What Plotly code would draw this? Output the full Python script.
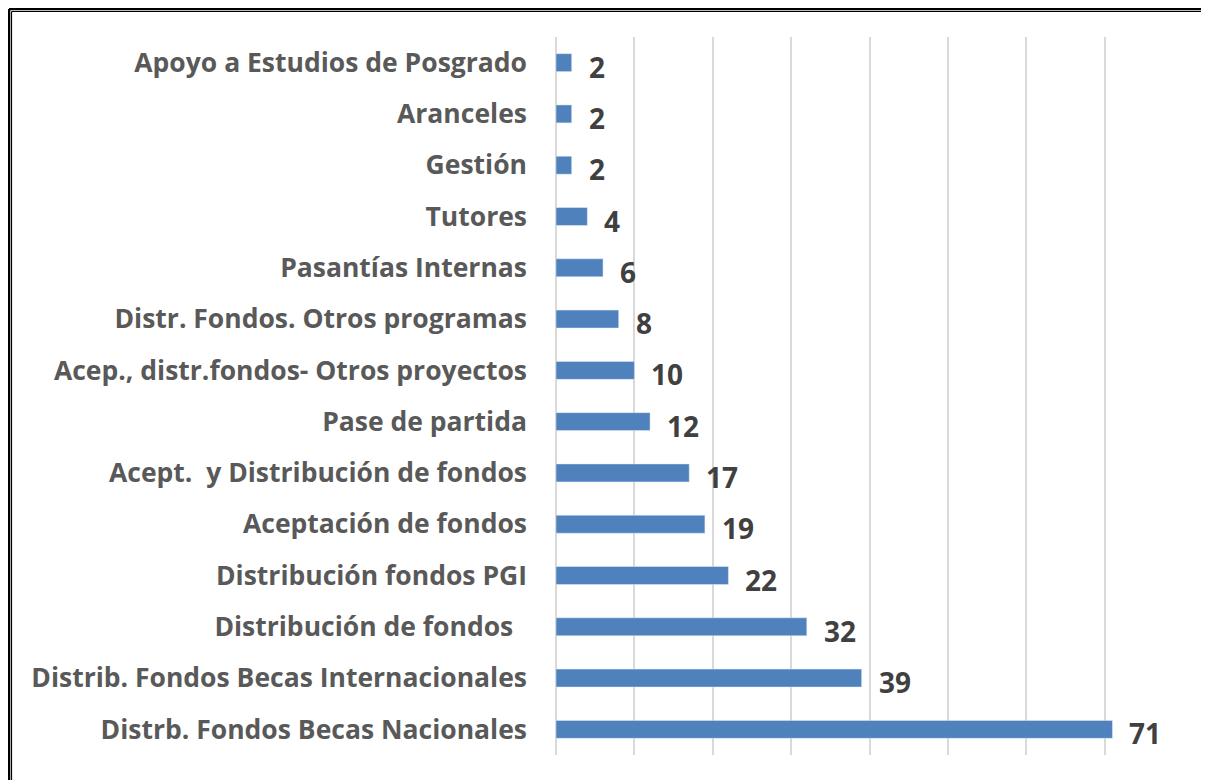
import plotly.graph_objects as go

categorias = [
    "Distrb. Fondos Becas Nacionales",
    "Distrib. Fondos Becas Internacionales",
    "Distribución de fondos  ",
    "Distribución fondos PGI",
    "Aceptación de fondos",
    "Acept.  y Distribución de fondos",
    "Pase de partida",
    "Acep., distr.fondos- Otros proyectos",
    "Distr. Fondos. Otros programas",
    "Pasantías Internas",
    "Tutores",
    "Gestión",
    "Aranceles",
    "Apoyo a Estudios de Posgrado",
]
valores = [71, 39, 32, 22, 19, 17, 12, 10, 8, 6, 4, 2, 2, 2]

# la pagina tiene 8px de margen en el body
W, H = 1201, 772
L, R, T, B = 548, 26, 29, 25

def px_x(x):
    return (x - L) / (W - L - R)

def px_y(y):
    return (H - B - y) / (H - T - B)

fig = go.Figure()
fig.add_trace(go.Bar(
    y=categorias, x=valores, orientation="h",
    marker=dict(color="#4F81BD"),
))

for c, v in zip(categorias, valores):
    fig.add_annotation(x=v, y=c, text=str(v), showarrow=False,
                       xanchor="left", xshift=15, yshift=-4,
                       font=dict(family="Open Sans", size=28, color="#404040", weight="bold"))

# marco doble
for x0, w in [(1, 2.5), (3.5, 1.2)]:
    fig.add_shape(type="line", xref="paper", yref="paper",
                  x0=px_x(x0), x1=px_x(x0), y0=px_y(x0), y1=px_y(H + 20),
                  line=dict(color="black", width=w))
    fig.add_shape(type="line", xref="paper", yref="paper",
                  x0=px_x(x0), x1=px_x(W + 20), y0=px_y(x0), y1=px_y(x0),
                  line=dict(color="black", width=w))

fig.update_layout(
    width=W, height=H,
    margin=dict(l=L, r=R, t=T, b=B),
    paper_bgcolor="white", plot_bgcolor="white",
    bargap=0.65, showlegend=False,
    font=dict(family="Open Sans"),
)
fig.update_xaxes(range=[0, 80], dtick=10, showticklabels=False,
                 showgrid=True, gridcolor="#D9D9D9", gridwidth=2,
                 zeroline=True, zerolinecolor="#D9D9D9", zerolinewidth=2)
fig.update_yaxes(tickfont=dict(family="Open Sans", size=26.5, color="#595959", weight="bold"),
                 ticks="", ticklabelstandoff=28, showline=False, automargin=False)
fig.write_html("out.html")
